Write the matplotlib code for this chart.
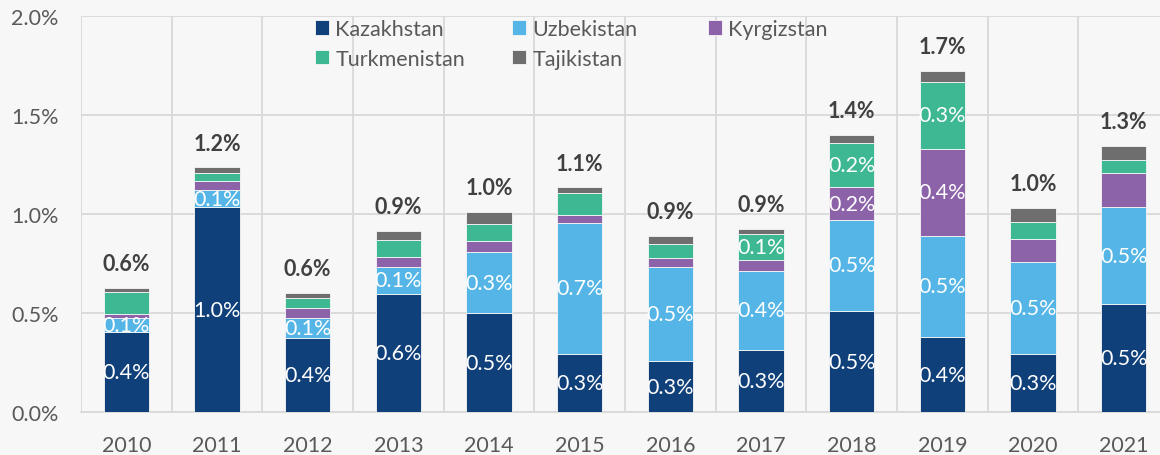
import numpy as np
import matplotlib
matplotlib.use("Agg")
import matplotlib.pyplot as plt
from matplotlib.ticker import FuncFormatter, MultipleLocator

plt.rcParams["font.family"] = ["Lato", "DejaVu Sans"]

# data (share, in percent)
years = ["2010", "2011", "2012", "2013", "2014", "2015",
         "2016", "2017", "2018", "2019", "2020", "2021"]
kazakhstan = [0.406, 1.035, 0.373, 0.598, 0.499, 0.296, 0.260, 0.316, 0.512, 0.381, 0.296, 0.545]
uzbekistan = [0.068, 0.086, 0.101, 0.135, 0.311, 0.659, 0.471, 0.395, 0.458, 0.510, 0.464, 0.489]
kyrgizstan = [0.023, 0.047, 0.050, 0.052, 0.055, 0.042, 0.049, 0.059, 0.165, 0.437, 0.116, 0.174]
turkmenistan = [0.108, 0.040, 0.052, 0.084, 0.083, 0.107, 0.069, 0.131, 0.223, 0.339, 0.084, 0.065]
tajikistan = [0.020, 0.027, 0.027, 0.044, 0.062, 0.030, 0.039, 0.023, 0.039, 0.054, 0.069, 0.070]

series_names = ["Kazakhstan", "Uzbekistan", "Kyrgizstan", "Turkmenistan", "Tajikistan"]
colors = ["#10407A", "#55B5E6", "#8C62A8", "#3DB892", "#6E6E6E"]

# which segments carry a value label
show_kaz = [1] * 12
show_uzb = [1] * 12
show_kyr = [0, 0, 0, 0, 0, 0, 0, 0, 1, 1, 0, 0]
show_tur = [0, 0, 0, 0, 0, 0, 0, 1, 1, 1, 0, 0]
show_taj = [0] * 12

bg = "#F7F7F7"
grid_c = "#D9D9D9"
text_c = "#595959"
fs = 15.5

fig = plt.figure(figsize=(11.6, 4.56), dpi=100, facecolor=bg)
ax = fig.add_axes([81 / 1160, 42.7 / 456, 1088 / 1160, 396.6 / 456])
ax.set_facecolor(bg)

data = np.array([kazakhstan, uzbekistan, kyrgizstan, turkmenistan, tajikistan])
shows = np.array([show_kaz, show_uzb, show_kyr, show_tur, show_taj])
x = np.arange(len(years))
bottom = np.zeros(len(years))
handles = []
for vals, show, name, c in zip(data, shows, series_names, colors):
    bars = ax.bar(x, vals, 0.5, bottom=bottom, color=c, label=name,
                  edgecolor=bg, linewidth=0.6, zorder=3)
    handles.append(bars)
    labels = [f"{v:.1f}%" if s else "" for v, s in zip(vals, show)]
    ax.bar_label(bars, labels=labels, label_type="center", color="white",
                 fontsize=fs, zorder=4)
    bottom = bottom + vals

for xi, tot in zip(x, bottom):
    ax.annotate(f"{tot:.1f}%", (xi, tot), xytext=(0, 10), textcoords="offset points",
                ha="center", va="bottom", fontsize=fs, fontweight="bold",
                color="#404040")

ax.set_xlim(-0.5, len(years) - 0.5)
ax.set_ylim(0, 2.0)
ax.yaxis.set_major_locator(MultipleLocator(0.5))
ax.yaxis.set_major_formatter(FuncFormatter(lambda v, p: f"{v:.1f}%"))
ax.set_xticks(x)
ax.set_xticklabels(years)
ax.set_xticks(np.arange(len(years) + 1) - 0.5, minor=True)
ax.tick_params(axis="both", which="both", length=0, labelsize=fs, labelcolor=text_c)
ax.tick_params(axis="y", pad=16)
ax.tick_params(axis="x", pad=16)
ax.grid(axis="y", which="major", color=grid_c, linewidth=1.3, zorder=0)
ax.grid(axis="x", which="minor", color=grid_c, linewidth=1.3, zorder=0)
for s in ax.spines.values():
    s.set_visible(False)
ax.spines["bottom"].set_visible(True)
ax.spines["bottom"].set_color(grid_c)
ax.spines["bottom"].set_linewidth(1.3)

# legend laid out in three equal columns, row by row
cols = [[0, 3], [1, 4], [2]]
col_x = [315, 512, 708]
for idx, cx in zip(cols, col_x):
    fig.legend([handles[i] for i in idx], [series_names[i] for i in idx],
               loc="upper left", bbox_to_anchor=(cx / 1160, 1 - 20 / 456),
               frameon=False, borderpad=0, borderaxespad=0,
               handlelength=0.65, handleheight=0.65, handletextpad=0.3,
               labelspacing=0.45, fontsize=fs, labelcolor=text_c)

fig.savefig("out.png", dpi=100, facecolor=bg)
